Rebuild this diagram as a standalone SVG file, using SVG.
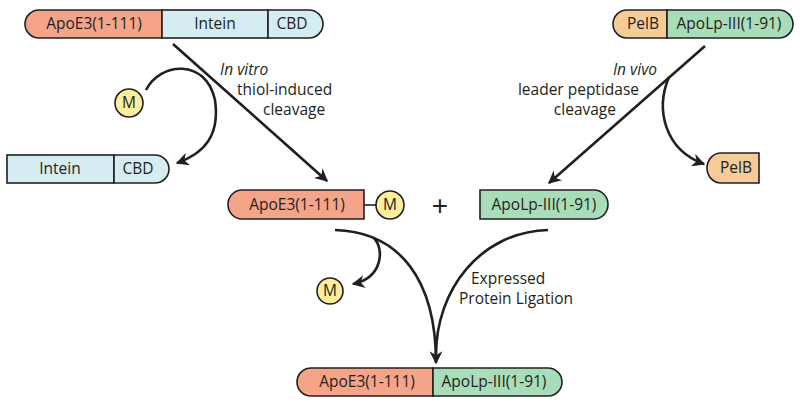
<svg xmlns="http://www.w3.org/2000/svg" width="800" height="405" viewBox="0 0 800 405">
<defs>
<style>
.seg{stroke:#231f20;stroke-width:1.6}
.apoe{fill:#f4a589}
.intein{fill:#d5ecf3}
.apolp{fill:#a9dcb8}
.pelb{fill:#f5cc98}
.m{fill:#fbee9c;stroke:#231f20;stroke-width:1.6}
.t{font-family:"Myriad Pro","Open Sans","Liberation Sans",sans-serif;font-size:15.5px;fill:#231f20;text-anchor:middle}
.lbl{font-family:"Myriad Pro","Open Sans","Liberation Sans",sans-serif;font-size:15.5px;fill:#231f20}
.arr{fill:none;stroke:#231f20;stroke-width:2.6}
</style>
<marker id="ah" viewBox="0 0 10 10" markerUnits="userSpaceOnUse" markerWidth="16" markerHeight="13" refX="9" refY="5" orient="auto">
<path d="M0,0 L10,5 L0,10 L3,5 Z" fill="#231f20"/>
</marker>
</defs>

<g id="connectors">
<path class="arr" d="M173,44 L327,181" marker-end="url(#ah)"/>
<path class="arr" d="M146,90 C160,62 206,58 215,100 C220,135 205,153 177,163" marker-end="url(#ah)"/>
<path class="arr" d="M705,46 L549,183" marker-end="url(#ah)"/>
<path class="arr" d="M669,77 C655,110 665,150 704,164" marker-end="url(#ah)"/>
<path class="arr" d="M335,230 C400,232 436,280 436,363" marker-end="url(#ah)"/>
<path class="arr" d="M548,230 C480,232 436,290 436,355"/>
<path class="arr" d="M374,238 C385,250 382,278 353,284" marker-end="url(#ah)"/>
</g>

<g id="precursor-apoe3">
<path class="seg apoe" d="M162,10 H39 A14,14 0 0 0 39,38 H162 Z"/>
<rect class="seg intein" x="162" y="10" width="106" height="28"/>
<path class="seg intein" d="M268,10 H309 A14,14 0 0 1 309,38 H268 Z"/>
<text class="t" x="94" y="29">ApoE3(1-111)</text>
<text class="t" x="215" y="29">Intein</text>
<text class="t" x="292" y="29">CBD</text>
</g>

<g id="precursor-apolp">
<path class="seg pelb" d="M667,10 H627 A14,14 0 0 0 627,38 H667 Z"/>
<path class="seg apolp" d="M667,10 H779 A14,14 0 0 1 779,38 H667 Z"/>
<text class="t" x="643" y="29">PelB</text>
<text class="t" x="729" y="29">ApoLp-III(1-91)</text>
</g>

<g id="m-reagent">
<circle class="m" cx="129" cy="103" r="14"/>
<text class="t" x="129" y="108">M</text>
</g>

<g id="label-invitro">
<text class="lbl" x="220" y="75" font-style="italic">In vitro</text>
<text class="lbl" x="237" y="95">thiol-induced</text>
<text class="lbl" x="263" y="115">cleavage</text>
</g>

<g id="label-invivo">
<text class="lbl" x="657" y="75" font-style="italic" text-anchor="end">In vivo</text>
<text class="lbl" x="639" y="95" text-anchor="end">leader peptidase</text>
<text class="lbl" x="616" y="115" text-anchor="end">cleavage</text>
</g>

<g id="intein-cbd">
<rect class="seg intein" x="7" y="155" width="107" height="28"/>
<path class="seg intein" d="M114,155 H155 A14,14 0 0 1 155,183 H114 Z"/>
<text class="t" x="60" y="174">Intein</text>
<text class="t" x="138" y="174">CBD</text>
</g>

<g id="pelb-free">
<path class="seg pelb" d="M759,153 H721 A14,15 0 0 0 721,183 H759 Z"/>
<text class="t" x="736" y="173">PelB</text>
</g>

<g id="apoe3-thioester">
<path class="seg apoe" d="M364,190 H242 A14,14.5 0 0 0 242,219 H364 Z"/>
<line x1="364" y1="205" x2="376" y2="205" stroke="#231f20" stroke-width="1.6"/>
<circle class="m" cx="390" cy="205" r="14"/>
<text class="t" x="297" y="210">ApoE3(1-111)</text>
<text class="t" x="390" y="210">M</text>
</g>

<g id="plus">
<text x="440" y="215" font-family="Liberation Sans,sans-serif" font-size="28" fill="#231f20" text-anchor="middle">+</text>
</g>

<g id="apolp-free">
<path class="seg apolp" d="M480,190 H594 A14,14.5 0 0 1 594,219 H480 Z"/>
<text class="t" x="544" y="210">ApoLp-III(1-91)</text>
</g>

<g id="m-released">
<circle class="m" cx="330" cy="291" r="13"/>
<text class="t" x="330" y="296">M</text>
</g>

<g id="label-epl">
<text class="lbl" x="471" y="284">Expressed</text>
<text class="lbl" x="459" y="304">Protein Ligation</text>
</g>

<g id="product">
<path class="seg apoe" d="M433,368 H311 A14,14 0 0 0 311,396 H433 Z"/>
<path class="seg apolp" d="M433,368 H548 A14,14 0 0 1 548,396 H433 Z"/>
<text class="t" x="367" y="387">ApoE3(1-111)</text>
<text class="t" x="494" y="387">ApoLp-III(1-91)</text>
</g>
</svg>
